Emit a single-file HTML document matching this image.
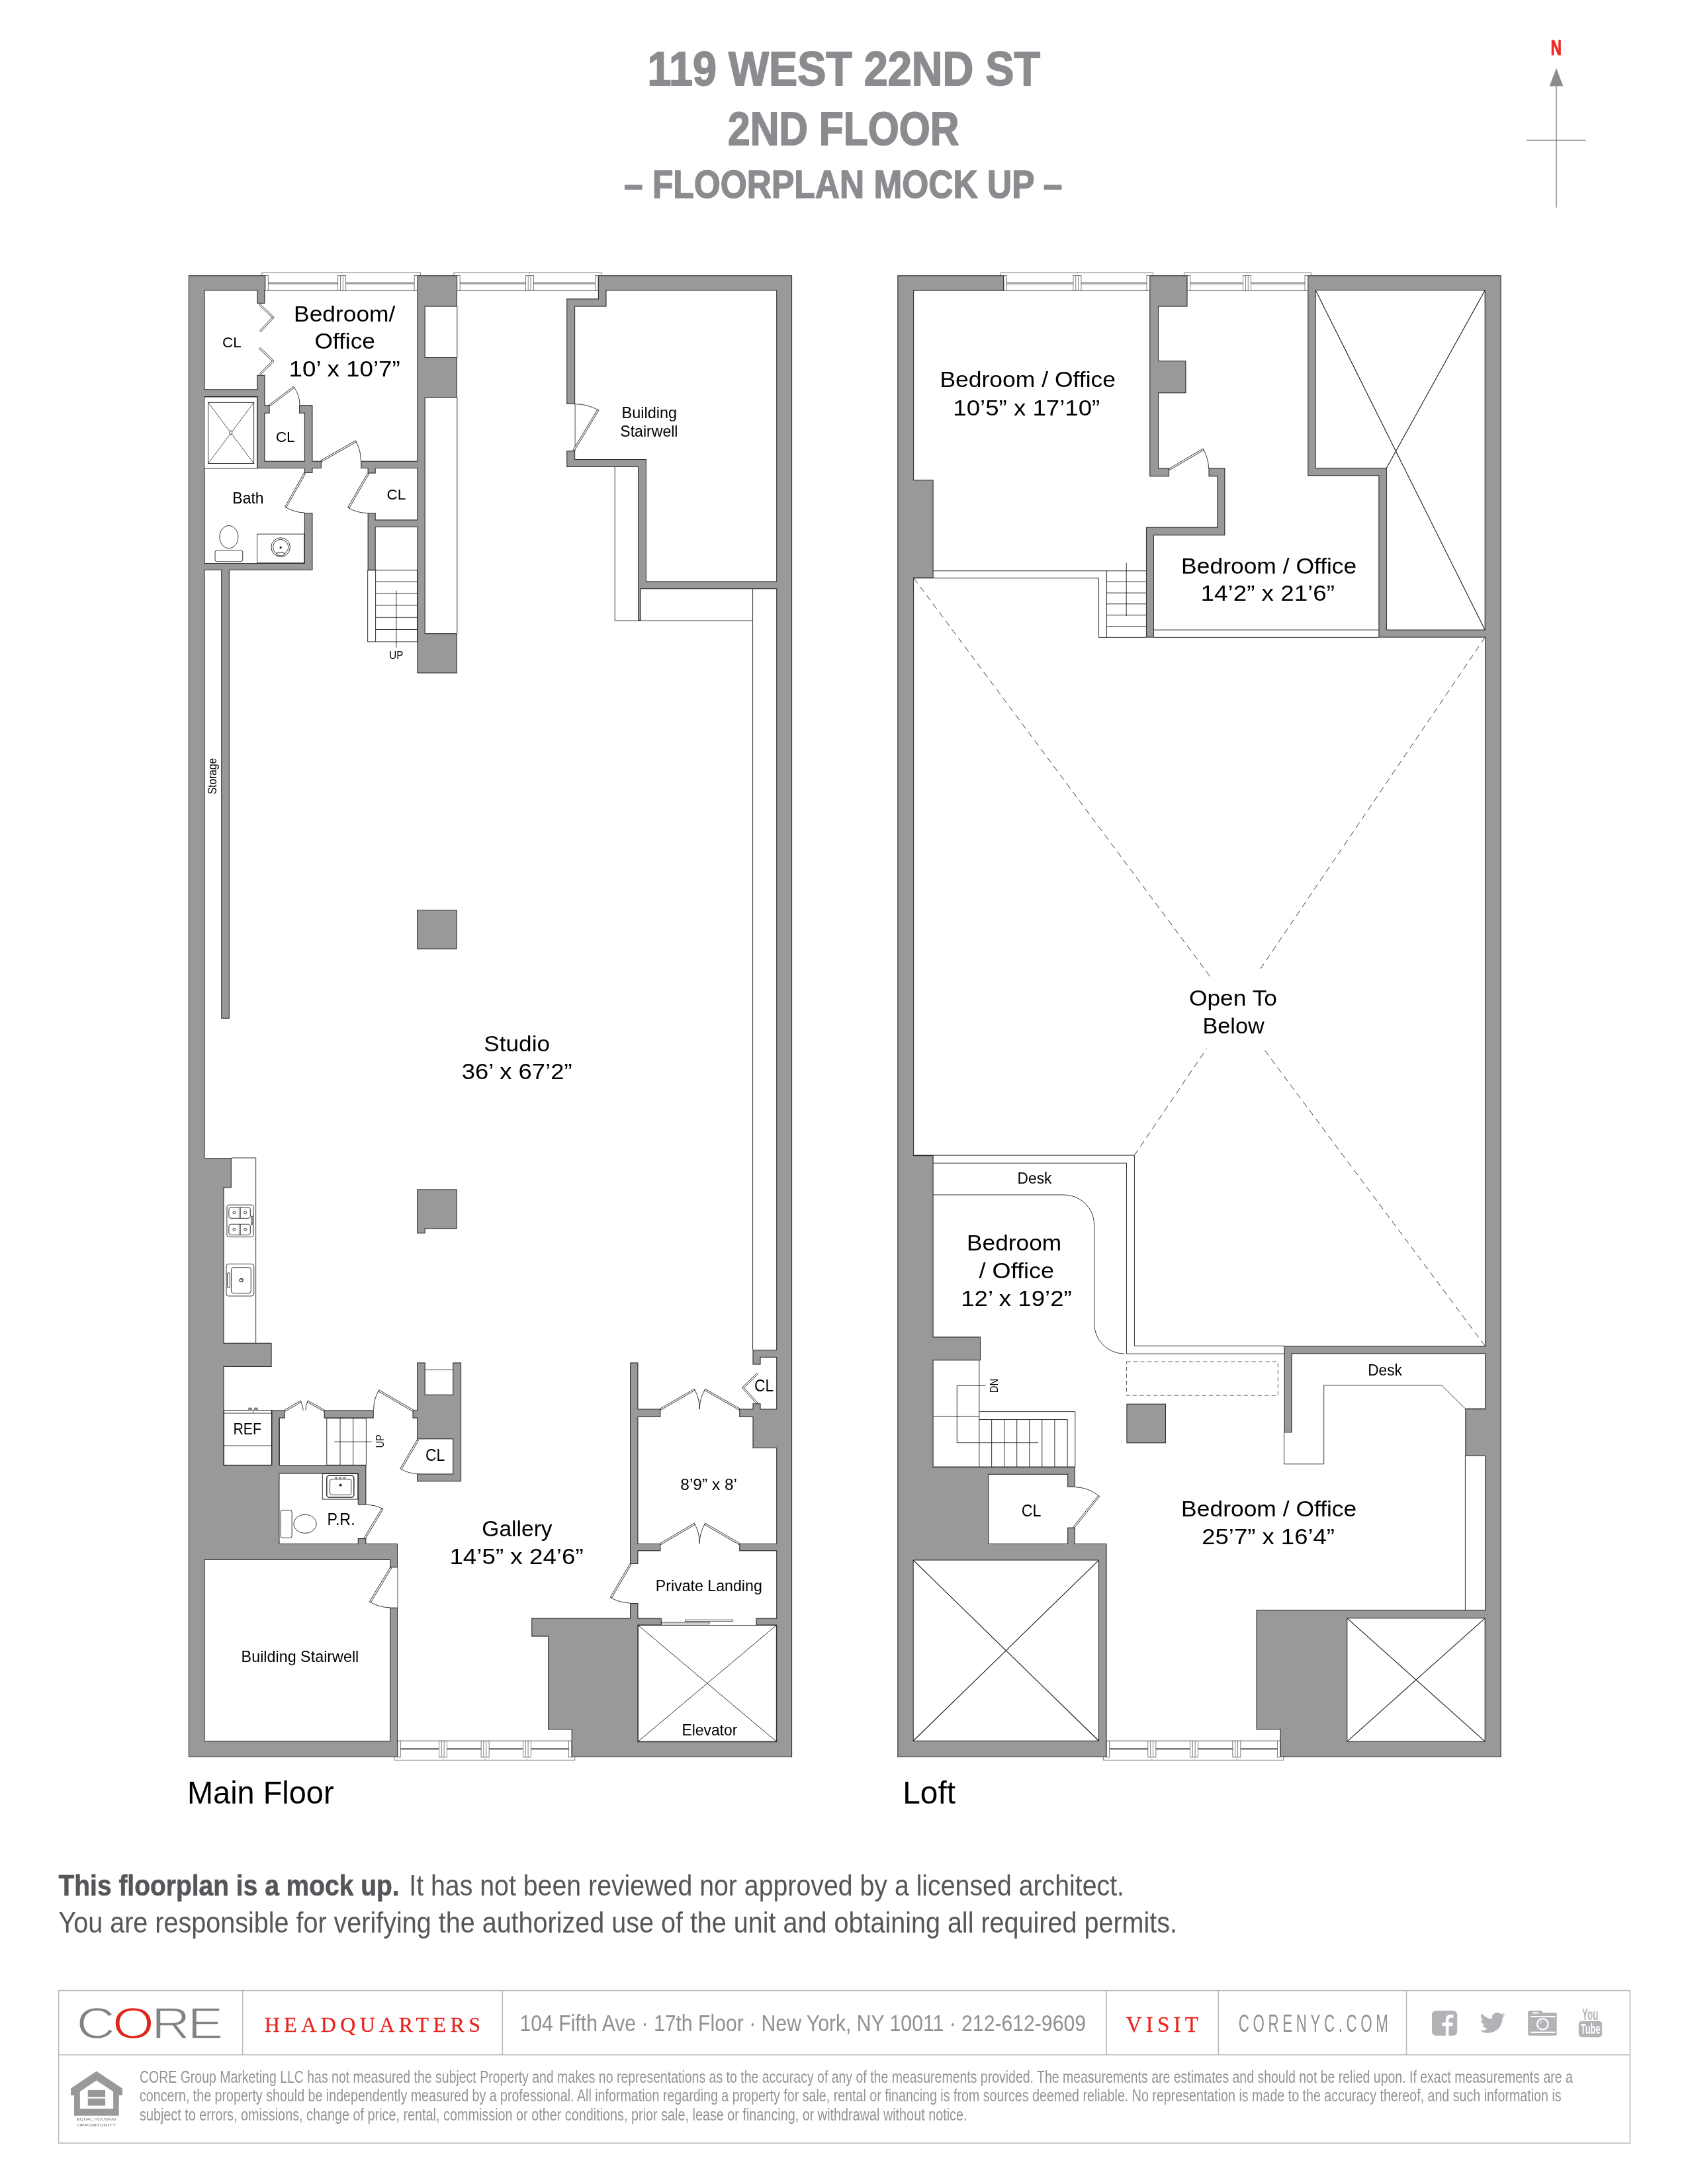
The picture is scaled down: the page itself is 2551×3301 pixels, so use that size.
<!DOCTYPE html>
<html lang="en"><head><meta charset="utf-8"><title>119 West 22nd St - 2nd Floor - Floorplan Mock Up</title>
<style>
html,body{margin:0;padding:0;background:#fff}
body{width:2551px;height:3301px;overflow:hidden}
svg{display:block;will-change:transform}
text{white-space:pre}
</style></head><body>
<svg width="2551" height="3301" viewBox="0 0 2551 3301" font-family='"Liberation Sans", Arial, Helvetica, sans-serif'>
<rect width="2551" height="3301" fill="#fff"/>
<defs><filter id="wo" filterUnits="userSpaceOnUse" x="270" y="400" width="2020" height="2270" color-interpolation-filters="sRGB"><feMorphology in="SourceAlpha" operator="erode" radius="1" result="er"/><feComposite in="SourceAlpha" in2="er" operator="out" result="ring"/><feFlood flood-color="#2b2b2b" result="fl"/><feComposite in="fl" in2="ring" operator="in" result="cring"/><feMerge><feMergeNode in="SourceGraphic"/><feMergeNode in="cring"/></feMerge></filter></defs>
<g fill="#999999" stroke="none" filter="url(#wo)">
<polygon points="284.88,416.37 400.95,416.37 400.95,439.29 400.36,439.29 400.36,458.63 388.45,458.63 388.45,439.29 309.43,439.29 309.43,1750 349.76,1750 349.76,1795.24 338.45,1795.24 338.45,2029.76 410.48,2029.76 410.48,2066.07 338.45,2066.07 338.45,2214.29 410.48,2214.29 410.48,2131.55 430.71,2131.55 430.71,2143.45 422.38,2143.45 422.38,2214.29 553.33,2214.29 553.33,2274.4 540.83,2274.4 540.83,2227.38 422.38,2227.38 422.38,2333.04 540.83,2333.04 540.83,2325 553.33,2325 553.33,2333.04 600.95,2333.04 600.95,2369.35 589.05,2369.35 589.05,2358.04 309.43,2358.04 309.43,2631.25 589.05,2631.25 589.05,2429.76 600.95,2429.76 600.95,2655.95 284.88,2655.95"/>
<polygon points="630.42,416.37 690.83,416.37 690.83,463.39 642.62,463.39 642.62,539.88 690.83,539.88 690.83,600.89 642.62,600.89 642.62,957.14 690.83,957.14 690.83,1017.56 630.42,1017.56"/>
<polygon points="903.93,416.37 1197.08,416.37 1197.08,2655.95 863.75,2655.95 863.75,2614.29 828.04,2614.29 828.04,2473.51 803.33,2473.51 803.33,2445.83 952.14,2445.83 952.14,2422.92 964.35,2422.92 964.35,2445.83 999.76,2445.83 999.76,2456.55 964.35,2456.55 964.35,2632.14 1173.27,2632.14 1173.27,2456.55 1142.62,2456.55 1142.62,2445.83 1173.27,2445.83 1173.27,2344.35 1117.32,2344.35 1117.32,2333.04 1173.27,2333.04 1173.27,2188.99 1137.56,2188.99 1137.56,2141.96 1117.32,2141.96 1117.32,2129.46 1137.56,2129.46 1137.56,2121.13 1149.46,2121.13 1149.46,2129.46 1173.27,2129.46 1173.27,2051.79 1149.46,2051.79 1149.46,2062.5 1137.56,2062.5 1137.56,2039.88 1173.27,2039.88 1173.27,890.18 968.51,890.18 968.51,938.1 964.05,938.1 964.05,705.95 856.31,705.95 856.31,681.25 869.11,681.25 869.11,694.05 976.85,694.05 976.85,878.57 1173.27,878.57 1173.27,439.29 916.43,439.29 916.43,463.39 869.11,463.39 869.11,610.71 856.31,610.71 856.31,451.49 903.93,451.49"/>
<polygon points="952.14,2059.52 964.35,2059.52 964.35,2129.46 998.27,2129.46 998.27,2141.96 964.35,2141.96 964.35,2333.04 998.27,2333.04 998.27,2344.35 964.35,2344.35 964.35,2363.99 952.14,2363.99"/>
<polygon points="388.45,566.67 400.36,566.67 400.36,612.2 407.5,612.2 407.5,624.7 400.36,624.7 400.36,700.6 388.45,700.6"/>
<rect x="304.23" y="588.39" width="93.75" height="11.61"/>
<polygon points="388.45,696.73 459.88,696.73 459.88,624.7 452.14,624.7 452.14,612.2 472.38,612.2 472.38,696.73 485.77,696.73 485.77,708.04 472.38,708.04 472.38,714.88 459.88,714.88 459.88,708.04 388.45,708.04"/>
<polygon points="545.3,696.73 636.07,696.73 636.07,708.04 567.62,708.04 567.62,715.48 555.71,715.48 555.71,708.04 545.3,708.04"/>
<polygon points="555.71,775 567.62,775 567.62,785.42 636.07,785.42 636.07,796.73 567.62,796.73 567.62,861.9 555.71,861.9"/>
<polygon points="459.88,775 472.38,775 472.38,861.9 304.23,861.9 304.23,850.89 459.88,850.89"/>
<rect x="334.29" y="856.85" width="12.5" height="682.74"/>
<rect x="630.12" y="1375" width="60.42" height="59.52"/>
<polygon points="630.12,1797.62 690.54,1797.62 690.54,1857.14 642.62,1857.14 642.62,1864.29 630.12,1864.29"/>
<polygon points="630.12,2059.52 642.62,2059.52 642.62,2107.74 684.29,2107.74 684.29,2059.52 697.08,2059.52 697.08,2239.29 630.12,2239.29 630.12,2227.38 684.29,2227.38 684.29,2175.3 630.12,2175.3 630.12,2143.45 623.57,2143.45 623.57,2131.55 630.12,2131.55"/>
<rect x="489.64" y="2131.55" width="75" height="11.9"/>
<polygon points="1356.37,416.37 1517.08,416.37 1517.08,439.43 1381.07,439.43 1381.07,725.3 1410.54,725.3 1410.54,873.81 1381.07,873.81 1381.07,1746.13 1410.54,1746.13 1410.54,2020.54 1481.96,2020.54 1481.96,2056.25 1410.54,2056.25 1410.54,2216.96 1624.82,2216.96 1624.82,2247.62 1613.21,2247.62 1613.21,2228.87 1494.17,2228.87 1494.17,2333.04 1613.21,2333.04 1613.21,2308.63 1624.82,2308.63 1624.82,2333.04 1672.44,2333.04 1672.44,2655.95 1356.37,2655.95"/>
<polygon points="1737.32,416.37 1794.46,416.37 1794.46,463.39 1751.01,463.39 1751.01,545.24 1792.38,545.24 1792.38,594.35 1751.01,594.35 1751.01,707.14 1767.08,707.14 1767.08,720.24 1737.32,720.24"/>
<polygon points="1826.61,707.14 1851.31,707.14 1851.31,809.23 1743.87,809.23 1743.87,963.39 1731.96,963.39 1731.96,796.73 1839.4,796.73 1839.4,720.24 1826.61,720.24"/>
<polygon points="1976.31,416.37 2268.57,416.37 2268.57,2655.95 1934.64,2655.95 1934.64,2614.29 1898.63,2614.29 1898.63,2433.33 2244.17,2433.33 2244.17,2200.89 2214.4,2200.89 2214.4,2129.17 2244.17,2129.17 2244.17,2046.13 1952.5,2046.13 1952.5,2165.18 1940.6,2165.18 1940.6,2034.23 2244.17,2034.23 2244.17,963.39 2083.45,963.39 2083.45,719.35 1976.31,719.35"/>
<rect x="1702.5" y="2121.73" width="59.52" height="59.52"/>
</g>
<g>
<rect x="400.95" y="416.37" width="229.46" height="22.92" fill="#fff"/>
<rect x="690.83" y="416.37" width="213.1" height="22.92" fill="#fff"/>
<rect x="600.95" y="2631.25" width="262.8" height="24.7" fill="#fff"/>
<rect x="1517.08" y="416.37" width="220.24" height="23.07" fill="#fff"/>
<rect x="1794.46" y="416.37" width="181.85" height="23.07" fill="#fff"/>
<rect x="1672.44" y="2631.25" width="262.2" height="24.7" fill="#fff"/>
</g>
<g stroke-linecap="butt">
<polyline points="690.83,463.39 690.83,539.88" fill="none" stroke="#111111" stroke-width="0.85"/>
<polyline points="690.83,600.89 690.83,957.14" fill="none" stroke="#111111" stroke-width="0.85"/>
<polyline points="642.62,2070.54 684.29,2070.54" fill="none" stroke="#111111" stroke-width="0.85"/>
<rect x="308.69" y="600" width="79.76" height="108.04" fill="#fff" stroke="#111111" stroke-width="0.85"/>
<rect x="314.64" y="608.33" width="69.05" height="92.26" fill="none" stroke="#111111" stroke-width="0.85"/>
<polyline points="314.64,608.33 383.69,700.6" fill="none" stroke="#111111" stroke-width="0.71"/>
<polyline points="383.69,608.33 314.64,700.6" fill="none" stroke="#111111" stroke-width="0.71"/>
<ellipse cx="348.87" cy="653.87" rx="2" ry="3" fill="#fff" stroke="#111111" stroke-width="0.85"/>
<rect x="388.45" y="807.14" width="71.43" height="43.75" fill="none" stroke="#111111" stroke-width="0.85"/>
<circle cx="424.17" cy="827.08" r="14.3" fill="none" stroke="#111111" stroke-width="0.85"/>
<circle cx="424.17" cy="827.08" r="11.6" fill="none" stroke="#111111" stroke-width="0.85"/>
<circle cx="424.17" cy="827.68" r="1.6" fill="#111111"/>
<rect x="418.81" y="835.12" width="10.42" height="4.76" fill="#fff" stroke="#111111" stroke-width="0.85" rx="1"/>
<ellipse cx="345.89" cy="811.61" rx="14" ry="17.3" fill="#fff" stroke="#111111" stroke-width="0.85"/>
<rect x="325.06" y="831.55" width="41.67" height="17.26" fill="#fff" stroke="#111111" stroke-width="0.85" rx="3"/>
<polygon points="391.82,461.25 412.06,480.59 413.65,478.93 393.41,459.59" fill="#fff" stroke="#111111" stroke-width="0.85"/>
<polygon points="412.01,478.98 392.67,499.81 394.35,501.38 413.7,480.54" fill="#fff" stroke="#111111" stroke-width="0.85"/>
<polygon points="391.82,527.32 412.06,546.66 413.65,545 393.41,525.66" fill="#fff" stroke="#111111" stroke-width="0.85"/>
<polygon points="412.04,545.02 392.7,564.37 394.33,565.99 413.67,546.65" fill="#fff" stroke="#111111" stroke-width="0.85"/>
<polygon points="408.19,613.71 444.8,586.04 443.41,584.2 406.81,611.88" fill="#fff" stroke="#111111" stroke-width="0.85"/>
<path d="M444.11 585.12 A45.89 45.89 0 0 1 453.04 612.2" fill="none" stroke="#111111" stroke-width="0.85"/>
<polygon points="486.34,697.72 538.43,667.96 537.29,665.97 485.2,695.73" fill="#fff" stroke="#111111" stroke-width="0.85"/>
<path d="M537.86 666.96 A59.99 59.99 0 0 1 545.3 696.73" fill="none" stroke="#111111" stroke-width="0.85"/>
<polygon points="459.47,714.91 430.61,766.1 432.61,767.23 461.48,716.04" fill="#fff" stroke="#111111" stroke-width="0.85"/>
<path d="M431.61 766.67 A58.77 58.77 0 0 0 460.48 775" fill="none" stroke="#111111" stroke-width="0.85"/>
<polygon points="555.31,715.5 525.55,766.98 527.54,768.14 557.31,716.65" fill="#fff" stroke="#111111" stroke-width="0.85"/>
<path d="M526.55 767.56 A59.47 59.47 0 0 0 556.31 775.6" fill="none" stroke="#111111" stroke-width="0.85"/>
<rect x="555.71" y="861.9" width="75" height="108.04" fill="none" stroke="#111111" stroke-width="0.85"/>
<polyline points="567.62,861.9 567.62,969.94" fill="none" stroke="#111111" stroke-width="0.85"/>
<polyline points="567.62,879.17 630.71,879.17" fill="none" stroke="#111111" stroke-width="0.85"/>
<polyline points="567.62,897.02 630.71,897.02" fill="none" stroke="#111111" stroke-width="0.85"/>
<polyline points="567.62,914.88 630.71,914.88" fill="none" stroke="#111111" stroke-width="0.85"/>
<polyline points="567.62,933.33 630.71,933.33" fill="none" stroke="#111111" stroke-width="0.85"/>
<polyline points="567.62,951.49 630.71,951.49" fill="none" stroke="#111111" stroke-width="0.85"/>
<polyline points="598.87,892.56 598.87,978.87" fill="none" stroke="#111111" stroke-width="0.85"/>
<polyline points="869.11,610.71 869.11,681.25" fill="none" stroke="#111111" stroke-width="0.71"/>
<polygon points="867.71,681.84 904.91,620.24 902.94,619.05 865.74,680.66" fill="#fff" stroke="#111111" stroke-width="0.85"/>
<path d="M903.93 619.64 A71.97 71.97 0 0 0 869.11 610.71" fill="none" stroke="#111111" stroke-width="0.85"/>
<polyline points="929.23,705.95 929.23,938.1 1137.56,938.1" fill="none" stroke="#111111" stroke-width="0.85"/>
<polyline points="1137.56,890.18 1137.56,938.1" fill="none" stroke="#111111" stroke-width="0.85"/>
<polyline points="1137.56,938.1 1137.56,2039.88" fill="none" stroke="#111111" stroke-width="0.85"/>
<polyline points="349.76,1750 386.67,1750 386.67,2029.76" fill="none" stroke="#111111" stroke-width="0.85"/>
<rect x="342.92" y="1821.13" width="40.18" height="48.51" fill="#fff" stroke="#111111" stroke-width="0.85" rx="3"/>
<rect x="345.89" y="1825" width="32.44" height="16.37" fill="none" stroke="#111111" stroke-width="0.85" rx="3"/>
<rect x="345.89" y="1850.3" width="32.44" height="16.37" fill="none" stroke="#111111" stroke-width="0.85" rx="3"/>
<polyline points="361.37,1825 361.37,1841.37" fill="none" stroke="#111111" stroke-width="0.64"/>
<polyline points="363.45,1825 363.45,1841.37" fill="none" stroke="#111111" stroke-width="0.64"/>
<polyline points="361.37,1850.3 361.37,1866.67" fill="none" stroke="#111111" stroke-width="0.64"/>
<polyline points="363.45,1850.3 363.45,1866.67" fill="none" stroke="#111111" stroke-width="0.64"/>
<circle cx="353.93" cy="1832.74" r="2" fill="#fff" stroke="#111111" stroke-width="0.85"/>
<circle cx="370.6" cy="1832.74" r="2" fill="#fff" stroke="#111111" stroke-width="0.85"/>
<circle cx="353.93" cy="1858.33" r="2" fill="#fff" stroke="#111111" stroke-width="0.85"/>
<circle cx="370.6" cy="1858.33" r="2" fill="#fff" stroke="#111111" stroke-width="0.85"/>
<circle cx="380.71" cy="1839.29" r="1.2" fill="#fff" stroke="#111111" stroke-width="0.9"/>
<circle cx="380.71" cy="1842.86" r="1.2" fill="#fff" stroke="#111111" stroke-width="0.9"/>
<circle cx="380.71" cy="1846.43" r="1.2" fill="#fff" stroke="#111111" stroke-width="0.9"/>
<circle cx="380.71" cy="1850" r="1.2" fill="#fff" stroke="#111111" stroke-width="0.9"/>
<rect x="342.02" y="1910.42" width="41.67" height="48.51" fill="#fff" stroke="#111111" stroke-width="0.85" rx="3.5"/>
<rect x="349.46" y="1915.77" width="29.76" height="38.69" fill="none" stroke="#111111" stroke-width="0.85" rx="3"/>
<rect x="343.51" y="1923.81" width="3.87" height="22.62" fill="none" stroke="#111111" stroke-width="0.85" rx="1.5"/>
<circle cx="364.64" cy="1935.12" r="2.5" fill="#fff" stroke="#111111" stroke-width="1.1"/>
<rect x="338.45" y="2131.55" width="72.02" height="82.74" fill="none" stroke="#111111" stroke-width="0.85"/>
<polyline points="338.45,2136.01 410.48,2136.01" fill="none" stroke="#111111" stroke-width="0.85"/>
<polyline points="338.45,2185.12 410.48,2185.12" fill="none" stroke="#111111" stroke-width="0.85"/>
<polyline points="382.5,2131.55 382.5,2136.01" fill="none" stroke="#111111" stroke-width="0.71"/>
<rect x="375.65" y="2127.98" width="5.06" height="3.27" fill="#8a8a8a" stroke="#666" stroke-width="0.57"/>
<rect x="384.58" y="2127.98" width="5.06" height="3.27" fill="#8a8a8a" stroke="#666" stroke-width="0.57"/>
<polygon points="431.3,2133.13 455.11,2119.15 453.94,2117.16 430.13,2131.15" fill="#fff" stroke="#111111" stroke-width="0.85"/>
<path d="M454.52 2118.15 A27.61 27.61 0 0 1 458.1 2131.55" fill="none" stroke="#111111" stroke-width="0.85"/>
<polygon points="490.21,2131.14 465.51,2117.15 464.37,2119.16 489.08,2133.14" fill="#fff" stroke="#111111" stroke-width="0.85"/>
<path d="M464.94 2118.15 A28.39 28.39 0 0 0 461.96 2131.55" fill="none" stroke="#111111" stroke-width="0.85"/>
<polygon points="624.75,2131.15 572.66,2100.79 571.5,2102.78 623.59,2133.14" fill="#fff" stroke="#111111" stroke-width="0.85"/>
<path d="M572.08 2101.79 A60.28 60.28 0 0 0 564.64 2131.55" fill="none" stroke="#111111" stroke-width="0.85"/>
<rect x="493.81" y="2143.45" width="59.52" height="70.83" fill="none" stroke="#111111" stroke-width="0.85"/>
<polyline points="514.05,2143.45 514.05,2214.29" fill="none" stroke="#111111" stroke-width="0.85"/>
<polyline points="533.69,2143.45 533.69,2214.29" fill="none" stroke="#111111" stroke-width="0.85"/>
<polyline points="505.12,2179.17 561.67,2179.17" fill="none" stroke="#111111" stroke-width="0.85"/>
<polyline points="422.38,2143.45 422.38,2214.29" fill="none" stroke="#111111" stroke-width="0.71"/>
<polygon points="630.62,2175.61 604.72,2219.66 606.71,2220.82 632.6,2176.77" fill="#fff" stroke="#111111" stroke-width="0.85"/>
<path d="M605.71 2220.24 A51.09 51.09 0 0 0 630.71 2227.38" fill="none" stroke="#111111" stroke-width="0.85"/>
<rect x="487.26" y="2227.38" width="53.57" height="38.69" fill="none" stroke="#111111" stroke-width="0.85"/>
<rect x="493.81" y="2230.36" width="41.07" height="32.74" fill="#fff" stroke="#111111" stroke-width="1.28" rx="3.5"/>
<rect x="498.57" y="2235.71" width="32.14" height="23.81" fill="none" stroke="#111111" stroke-width="0.85" rx="3"/>
<circle cx="508.1" cy="2233.63" r="1.3" fill="#fff" stroke="#111111" stroke-width="0.85"/>
<circle cx="514.35" cy="2233.63" r="1.3" fill="#fff" stroke="#111111" stroke-width="0.85"/>
<circle cx="520.6" cy="2233.63" r="1.3" fill="#fff" stroke="#111111" stroke-width="0.85"/>
<circle cx="514.64" cy="2244.64" r="1.9" fill="#111111"/>
<rect x="424.17" y="2282.44" width="16.96" height="41.96" fill="#fff" stroke="#111111" stroke-width="0.85" rx="3"/>
<ellipse cx="461.07" cy="2303.27" rx="17.3" ry="14" fill="#fff" stroke="#111111" stroke-width="0.85"/>
<polygon points="552.24,2325.59 579.02,2280.95 577.05,2279.77 550.26,2324.41" fill="#fff" stroke="#111111" stroke-width="0.85"/>
<path d="M578.04 2280.36 A52.06 52.06 0 0 0 553.33 2274.4" fill="none" stroke="#111111" stroke-width="0.85"/>
<polygon points="1143.61,2075.66 1121.88,2096.49 1123.47,2098.15 1145.2,2077.32" fill="#fff" stroke="#111111" stroke-width="0.85"/>
<polygon points="1121.83,2098.1 1143.56,2121.91 1145.25,2120.36 1123.53,2096.55" fill="#fff" stroke="#111111" stroke-width="0.85"/>
<polygon points="998.85,2131.06 1050.34,2101.29 1049.19,2099.3 997.7,2129.06" fill="#fff" stroke="#111111" stroke-width="0.85"/>
<path d="M1049.76 2100.3 A59.47 59.47 0 0 1 1057.2 2130.06" fill="none" stroke="#111111" stroke-width="0.85"/>
<polygon points="1117.89,2129.06 1065.81,2099.3 1064.67,2101.3 1116.75,2131.06" fill="#fff" stroke="#111111" stroke-width="0.85"/>
<path d="M1065.24 2100.3 A59.99 59.99 0 0 0 1057.2 2130.06" fill="none" stroke="#111111" stroke-width="0.85"/>
<polygon points="998.86,2334.62 1050.35,2304.26 1049.18,2302.28 997.69,2332.64" fill="#fff" stroke="#111111" stroke-width="0.85"/>
<path d="M1049.76 2303.27 A59.77 59.77 0 0 1 1057.2 2333.04" fill="none" stroke="#111111" stroke-width="0.85"/>
<polygon points="1117.9,2332.64 1065.82,2302.28 1064.66,2304.27 1116.74,2334.62" fill="#fff" stroke="#111111" stroke-width="0.85"/>
<path d="M1065.24 2303.27 A60.28 60.28 0 0 0 1057.2 2333.04" fill="none" stroke="#111111" stroke-width="0.85"/>
<polyline points="600.95,2369.35 600.95,2429.76" fill="none" stroke="#111111" stroke-width="0.71"/>
<polygon points="589.85,2368.75 558.3,2420.83 560.27,2422.02 591.82,2369.94" fill="#fff" stroke="#111111" stroke-width="0.85"/>
<path d="M559.29 2421.43 A60.89 60.89 0 0 0 589.05 2429.76" fill="none" stroke="#111111" stroke-width="0.85"/>
<polygon points="952.04,2363.41 922.28,2414.3 924.27,2415.46 954.03,2364.57" fill="#fff" stroke="#111111" stroke-width="0.85"/>
<path d="M923.27 2414.88 A58.96 58.96 0 0 0 952.14 2422.92" fill="none" stroke="#111111" stroke-width="0.85"/>
<rect x="964.35" y="2456.55" width="208.93" height="175.6" fill="#fff" stroke="#111111" stroke-width="0.85"/>
<polyline points="964.35,2456.55 1173.27,2632.14" fill="none" stroke="#111111" stroke-width="0.88"/>
<polyline points="1173.27,2456.55 964.35,2632.14" fill="none" stroke="#111111" stroke-width="0.88"/>
<rect x="999.76" y="2452.08" width="72.32" height="2.68" fill="#fff" stroke="#111111" stroke-width="0.71"/>
<rect x="1035.48" y="2448.21" width="72.32" height="2.38" fill="#fff" stroke="#111111" stroke-width="0.71"/>
<polyline points="400.95,439.29 630.42,439.29" fill="none" stroke="#222" stroke-width="0.78"/>
<polyline points="400.95,427.33 630.42,427.33" fill="none" stroke="#222" stroke-width="0.71"/>
<polyline points="400.95,428.93 630.42,428.93" fill="none" stroke="#222" stroke-width="0.71"/>
<rect x="400.95" y="416.37" width="4.3" height="22.92" fill="#fff" stroke="#4a4a4a" stroke-width="0.71"/>
<rect x="626.12" y="416.37" width="4.3" height="22.92" fill="#fff" stroke="#4a4a4a" stroke-width="0.71"/>
<rect x="510.7" y="416.37" width="12" height="22.92" fill="#fff" stroke="#4a4a4a" stroke-width="0.71"/>
<polyline points="514.5,416.37 514.5,439.29" fill="none" stroke="#4a4a4a" stroke-width="0.71"/>
<polyline points="518.3,416.37 518.3,439.29" fill="none" stroke="#4a4a4a" stroke-width="0.71"/>
<polyline points="395.95,416.37 395.95,411.97 635.42,411.97 635.42,416.37" fill="none" stroke="#4a4a4a" stroke-width="0.71"/>
<polyline points="516.7,411.97 516.7,413.47" fill="none" stroke="#4a4a4a" stroke-width="0.64"/>
<polyline points="690.83,439.29 903.93,439.29" fill="none" stroke="#222" stroke-width="0.78"/>
<polyline points="690.83,427.33 903.93,427.33" fill="none" stroke="#222" stroke-width="0.71"/>
<polyline points="690.83,428.93 903.93,428.93" fill="none" stroke="#222" stroke-width="0.71"/>
<rect x="690.83" y="416.37" width="4.3" height="22.92" fill="#fff" stroke="#4a4a4a" stroke-width="0.71"/>
<rect x="899.63" y="416.37" width="4.3" height="22.92" fill="#fff" stroke="#4a4a4a" stroke-width="0.71"/>
<rect x="794.4" y="416.37" width="12" height="22.92" fill="#fff" stroke="#4a4a4a" stroke-width="0.71"/>
<polyline points="798.2,416.37 798.2,439.29" fill="none" stroke="#4a4a4a" stroke-width="0.71"/>
<polyline points="802,416.37 802,439.29" fill="none" stroke="#4a4a4a" stroke-width="0.71"/>
<polyline points="685.83,416.37 685.83,411.97 908.93,411.97 908.93,416.37" fill="none" stroke="#4a4a4a" stroke-width="0.71"/>
<polyline points="800.4,411.97 800.4,413.47" fill="none" stroke="#4a4a4a" stroke-width="0.64"/>
<polyline points="600.95,2631.25 863.75,2631.25" fill="none" stroke="#222" stroke-width="0.78"/>
<polyline points="600.95,2642.5 863.75,2642.5" fill="none" stroke="#222" stroke-width="0.71"/>
<polyline points="600.95,2644.1 863.75,2644.1" fill="none" stroke="#222" stroke-width="0.71"/>
<rect x="600.95" y="2631.25" width="4.3" height="24.7" fill="#fff" stroke="#4a4a4a" stroke-width="0.71"/>
<rect x="859.45" y="2631.25" width="4.3" height="24.7" fill="#fff" stroke="#4a4a4a" stroke-width="0.71"/>
<rect x="663.5" y="2631.25" width="12" height="24.7" fill="#fff" stroke="#4a4a4a" stroke-width="0.71"/>
<polyline points="667.3,2631.25 667.3,2655.95" fill="none" stroke="#4a4a4a" stroke-width="0.71"/>
<polyline points="671.1,2631.25 671.1,2655.95" fill="none" stroke="#4a4a4a" stroke-width="0.71"/>
<rect x="727.1" y="2631.25" width="12" height="24.7" fill="#fff" stroke="#4a4a4a" stroke-width="0.71"/>
<polyline points="730.9,2631.25 730.9,2655.95" fill="none" stroke="#4a4a4a" stroke-width="0.71"/>
<polyline points="734.7,2631.25 734.7,2655.95" fill="none" stroke="#4a4a4a" stroke-width="0.71"/>
<rect x="790.5" y="2631.25" width="12" height="24.7" fill="#fff" stroke="#4a4a4a" stroke-width="0.71"/>
<polyline points="794.3,2631.25 794.3,2655.95" fill="none" stroke="#4a4a4a" stroke-width="0.71"/>
<polyline points="798.1,2631.25 798.1,2655.95" fill="none" stroke="#4a4a4a" stroke-width="0.71"/>
<polyline points="595.95,2655.95 595.95,2660.35 868.75,2660.35 868.75,2655.95" fill="none" stroke="#4a4a4a" stroke-width="0.71"/>
<polyline points="669.5,2660.35 669.5,2658.85" fill="none" stroke="#4a4a4a" stroke-width="0.64"/>
<polyline points="733.1,2660.35 733.1,2658.85" fill="none" stroke="#4a4a4a" stroke-width="0.64"/>
<polyline points="796.5,2660.35 796.5,2658.85" fill="none" stroke="#4a4a4a" stroke-width="0.64"/>
<polygon points="1988.21,438.69 2244.17,438.69 2244.17,952.08 2095.36,952.08 2095.36,707.44 1988.21,707.44" fill="#fff" stroke="#222" stroke-width="1"/>
<polygon points="2035.83,2445.83 2244.17,2445.83 2244.17,2632.14 2035.83,2632.14" fill="#fff" stroke="#222" stroke-width="1"/>
<polygon points="1380.18,2358.04 1660.54,2358.04 1660.54,2631.25 1380.18,2631.25" fill="#fff" stroke="#222" stroke-width="1"/>
<polyline points="1988.21,438.69 2244.17,952.08" fill="none" stroke="#111111" stroke-width="1.06"/>
<polyline points="2244.17,438.69 2095.36,707.44" fill="none" stroke="#111111" stroke-width="1.06"/>
<polyline points="2035.83,2445.83 2244.17,2632.14" fill="none" stroke="#111111" stroke-width="1.06"/>
<polyline points="2244.17,2445.83 2035.83,2632.14" fill="none" stroke="#111111" stroke-width="1.06"/>
<polyline points="1380.18,2358.04 1660.54,2631.25" fill="none" stroke="#111111" stroke-width="1.06"/>
<polyline points="1660.54,2358.04 1380.18,2631.25" fill="none" stroke="#111111" stroke-width="1.06"/>
<polyline points="1517.08,439.43 1737.32,439.43" fill="none" stroke="#222" stroke-width="0.78"/>
<polyline points="1517.08,427.4 1737.32,427.4" fill="none" stroke="#222" stroke-width="0.71"/>
<polyline points="1517.08,429 1737.32,429" fill="none" stroke="#222" stroke-width="0.71"/>
<rect x="1517.08" y="416.37" width="4.3" height="23.07" fill="#fff" stroke="#4a4a4a" stroke-width="0.71"/>
<rect x="1733.02" y="416.37" width="4.3" height="23.07" fill="#fff" stroke="#4a4a4a" stroke-width="0.71"/>
<rect x="1621.95" y="416.37" width="12" height="23.07" fill="#fff" stroke="#4a4a4a" stroke-width="0.71"/>
<polyline points="1625.75,416.37 1625.75,439.43" fill="none" stroke="#4a4a4a" stroke-width="0.71"/>
<polyline points="1629.55,416.37 1629.55,439.43" fill="none" stroke="#4a4a4a" stroke-width="0.71"/>
<polyline points="1512.08,416.37 1512.08,411.97 1742.32,411.97 1742.32,416.37" fill="none" stroke="#4a4a4a" stroke-width="0.71"/>
<polyline points="1627.95,411.97 1627.95,413.47" fill="none" stroke="#4a4a4a" stroke-width="0.64"/>
<polyline points="1794.46,439.43 1976.31,439.43" fill="none" stroke="#222" stroke-width="0.78"/>
<polyline points="1794.46,427.4 1976.31,427.4" fill="none" stroke="#222" stroke-width="0.71"/>
<polyline points="1794.46,429 1976.31,429" fill="none" stroke="#222" stroke-width="0.71"/>
<rect x="1794.46" y="416.37" width="4.3" height="23.07" fill="#fff" stroke="#4a4a4a" stroke-width="0.71"/>
<rect x="1972.01" y="416.37" width="4.3" height="23.07" fill="#fff" stroke="#4a4a4a" stroke-width="0.71"/>
<rect x="1878.64" y="416.37" width="12" height="23.07" fill="#fff" stroke="#4a4a4a" stroke-width="0.71"/>
<polyline points="1882.44,416.37 1882.44,439.43" fill="none" stroke="#4a4a4a" stroke-width="0.71"/>
<polyline points="1886.24,416.37 1886.24,439.43" fill="none" stroke="#4a4a4a" stroke-width="0.71"/>
<polyline points="1789.46,416.37 1789.46,411.97 1981.31,411.97 1981.31,416.37" fill="none" stroke="#4a4a4a" stroke-width="0.71"/>
<polyline points="1884.64,411.97 1884.64,413.47" fill="none" stroke="#4a4a4a" stroke-width="0.64"/>
<polyline points="1672.44,2631.25 1934.64,2631.25" fill="none" stroke="#222" stroke-width="0.78"/>
<polyline points="1672.44,2642.5 1934.64,2642.5" fill="none" stroke="#222" stroke-width="0.71"/>
<polyline points="1672.44,2644.1 1934.64,2644.1" fill="none" stroke="#222" stroke-width="0.71"/>
<rect x="1672.44" y="2631.25" width="4.3" height="24.7" fill="#fff" stroke="#4a4a4a" stroke-width="0.71"/>
<rect x="1930.34" y="2631.25" width="4.3" height="24.7" fill="#fff" stroke="#4a4a4a" stroke-width="0.71"/>
<rect x="1734.89" y="2631.25" width="12" height="24.7" fill="#fff" stroke="#4a4a4a" stroke-width="0.71"/>
<polyline points="1738.69,2631.25 1738.69,2655.95" fill="none" stroke="#4a4a4a" stroke-width="0.71"/>
<polyline points="1742.49,2631.25 1742.49,2655.95" fill="none" stroke="#4a4a4a" stroke-width="0.71"/>
<rect x="1798.58" y="2631.25" width="12" height="24.7" fill="#fff" stroke="#4a4a4a" stroke-width="0.71"/>
<polyline points="1802.38,2631.25 1802.38,2655.95" fill="none" stroke="#4a4a4a" stroke-width="0.71"/>
<polyline points="1806.18,2631.25 1806.18,2655.95" fill="none" stroke="#4a4a4a" stroke-width="0.71"/>
<rect x="1862.87" y="2631.25" width="12" height="24.7" fill="#fff" stroke="#4a4a4a" stroke-width="0.71"/>
<polyline points="1866.67,2631.25 1866.67,2655.95" fill="none" stroke="#4a4a4a" stroke-width="0.71"/>
<polyline points="1870.47,2631.25 1870.47,2655.95" fill="none" stroke="#4a4a4a" stroke-width="0.71"/>
<polyline points="1667.44,2655.95 1667.44,2660.35 1939.64,2660.35 1939.64,2655.95" fill="none" stroke="#4a4a4a" stroke-width="0.71"/>
<polyline points="1740.89,2660.35 1740.89,2658.85" fill="none" stroke="#4a4a4a" stroke-width="0.64"/>
<polyline points="1804.58,2660.35 1804.58,2658.85" fill="none" stroke="#4a4a4a" stroke-width="0.64"/>
<polyline points="1868.87,2660.35 1868.87,2658.85" fill="none" stroke="#4a4a4a" stroke-width="0.64"/>
<polygon points="1767.67,710.51 1819.16,680.16 1817.99,678.18 1766.5,708.53" fill="#fff" stroke="#111111" stroke-width="0.85"/>
<path d="M1818.57 679.17 A59.77 59.77 0 0 1 1826.61 708.04" fill="none" stroke="#111111" stroke-width="0.85"/>
<polyline points="1410.54,862.8 1731.96,862.8" fill="none" stroke="#111111" stroke-width="0.85"/>
<polyline points="1380.18,873.81 1660.54,873.81 1660.54,963.39 1731.96,963.39" fill="none" stroke="#111111" stroke-width="0.85"/>
<polyline points="1672.44,862.8 1672.44,963.39" fill="none" stroke="#111111" stroke-width="0.85"/>
<polyline points="1672.44,879.17 1731.96,879.17" fill="none" stroke="#111111" stroke-width="0.85"/>
<polyline points="1672.44,896.13 1731.96,896.13" fill="none" stroke="#111111" stroke-width="0.85"/>
<polyline points="1672.44,912.8 1731.96,912.8" fill="none" stroke="#111111" stroke-width="0.85"/>
<polyline points="1672.44,929.76 1731.96,929.76" fill="none" stroke="#111111" stroke-width="0.85"/>
<polyline points="1672.44,946.73 1731.96,946.73" fill="none" stroke="#111111" stroke-width="0.85"/>
<polyline points="1702.2,850.89 1702.2,931.25" fill="none" stroke="#111111" stroke-width="0.85"/>
<polyline points="1743.87,952.08 2083.45,952.08" fill="none" stroke="#111111" stroke-width="0.85"/>
<polyline points="1743.87,963.39 2083.45,963.39" fill="none" stroke="#111111" stroke-width="0.85"/>
<polyline points="1381.07,873.81 1829.6,1477" fill="none" stroke="#111111" stroke-width="0.85" stroke-dasharray="9.5 6.6"/>
<polyline points="2244.17,963.39 1901,1470" fill="none" stroke="#111111" stroke-width="0.85" stroke-dasharray="9.5 6.6"/>
<polyline points="1714.4,1746.13 1823.6,1584.8" fill="none" stroke="#111111" stroke-width="0.85" stroke-dasharray="9.5 6.6"/>
<polyline points="2244.17,2034.23 1910,1585.7" fill="none" stroke="#111111" stroke-width="0.85" stroke-dasharray="9.5 6.6"/>
<polyline points="1380.18,1746.13 1714.4,1746.13 1714.4,2034.23 1940.6,2034.23" fill="none" stroke="#111111" stroke-width="0.85"/>
<polyline points="1410.54,1758.04 1702.5,1758.04 1702.5,2046.13 1940.6,2046.13" fill="none" stroke="#111111" stroke-width="0.85"/>
<path d="M1410.54 1805.95 H1608.15 A45.54 45.54 0 0 1 1653.69 1851.49 V2000.6 A45.54 45.54 0 0 0 1699.23 2046.13" fill="none" stroke="#111111" stroke-width="0.85"/>
<rect x="1702.5" y="2058.04" width="228.87" height="51.19" fill="none" stroke="#444" stroke-width="0.85" stroke-dasharray="6.3 4.2"/>
<polyline points="1479.88,2056.25 1479.88,2216.96" fill="none" stroke="#111111" stroke-width="0.85"/>
<polyline points="1410.54,2140.48 1479.88,2140.48" fill="none" stroke="#111111" stroke-width="0.85"/>
<polyline points="1479.88,2133.63 1624.82,2133.63 1624.82,2216.96" fill="none" stroke="#111111" stroke-width="0.85"/>
<polyline points="1479.88,2145.54 1613.21,2145.54 1613.21,2216.96" fill="none" stroke="#111111" stroke-width="0.85"/>
<polyline points="1498.63,2145.54 1498.63,2216.96" fill="none" stroke="#111111" stroke-width="0.85"/>
<polyline points="1517.68,2145.54 1517.68,2216.96" fill="none" stroke="#111111" stroke-width="0.85"/>
<polyline points="1536.73,2145.54 1536.73,2216.96" fill="none" stroke="#111111" stroke-width="0.85"/>
<polyline points="1555.77,2145.54 1555.77,2216.96" fill="none" stroke="#111111" stroke-width="0.85"/>
<polyline points="1574.82,2145.54 1574.82,2216.96" fill="none" stroke="#111111" stroke-width="0.85"/>
<polyline points="1593.87,2145.54 1593.87,2216.96" fill="none" stroke="#111111" stroke-width="0.85"/>
<polyline points="1489.7,2094.35 1446.25,2094.35 1446.25,2180.65 1569.17,2180.65" fill="none" stroke="#111111" stroke-width="0.85"/>
<polyline points="1410.54,2216.96 1624.82,2216.96" fill="none" stroke="#111111" stroke-width="0.71"/>
<polygon points="1623.64,2309.35 1661.73,2261.73 1659.94,2260.29 1621.84,2307.91" fill="#fff" stroke="#111111" stroke-width="0.85"/>
<path d="M1660.83 2261.01 A60.98 60.98 0 0 0 1624.82 2247.62" fill="none" stroke="#111111" stroke-width="0.85"/>
<polyline points="1940.6,2165.18 1940.6,2212.8 2000.71,2212.8 2000.71,2093.75 2178.69,2093.75 2214.4,2129.17 2244.17,2129.17" fill="none" stroke="#111111" stroke-width="0.85"/>
<polyline points="2214.4,2200.89 2214.4,2433.33" fill="none" stroke="#111111" stroke-width="0.85"/>
</g>
<g>
<text x="520.75" y="485.7" font-size="33.92" text-anchor="middle" textLength="153.3" lengthAdjust="spacingAndGlyphs">Bedroom/</text>
<text x="521.2" y="527.4" font-size="33.92" text-anchor="middle" textLength="91.6" lengthAdjust="spacingAndGlyphs">Office</text>
<text x="520.7" y="569" font-size="33.92" text-anchor="middle" textLength="168.2" lengthAdjust="spacingAndGlyphs">10’ x 10’7”</text>
<text x="350.4" y="524.8" font-size="22.9" text-anchor="middle" textLength="28.8" lengthAdjust="spacingAndGlyphs">CL</text>
<text x="431.25" y="667.8" font-size="22.9" text-anchor="middle" textLength="29.1" lengthAdjust="spacingAndGlyphs">CL</text>
<text x="599" y="755.3" font-size="22.9" text-anchor="middle" textLength="28.8" lengthAdjust="spacingAndGlyphs">CL</text>
<text x="374.95" y="761.2" font-size="23.64" text-anchor="middle" textLength="47.3" lengthAdjust="spacingAndGlyphs">Bath</text>
<text x="598.8" y="996.3" font-size="16.96" text-anchor="middle" textLength="21.2" lengthAdjust="spacingAndGlyphs">UP</text>
<text x="981.3" y="631.5" font-size="23.32" text-anchor="middle" textLength="83.4" lengthAdjust="spacingAndGlyphs">Building</text>
<text x="980.9" y="659.5" font-size="23.32" text-anchor="middle" textLength="87.2" lengthAdjust="spacingAndGlyphs">Stairwell</text>
<text x="327" y="1173.2" font-size="17.6" text-anchor="middle" textLength="54.8" lengthAdjust="spacingAndGlyphs" transform="rotate(-90 327 1173.2)">Storage</text>
<text x="781.15" y="1589.3" font-size="33.92" text-anchor="middle" textLength="99.7" lengthAdjust="spacingAndGlyphs">Studio</text>
<text x="781.15" y="1631.3" font-size="33.92" text-anchor="middle" textLength="166.9" lengthAdjust="spacingAndGlyphs">36’ x 67’2”</text>
<text x="373.7" y="2167.9" font-size="23.32" text-anchor="middle" textLength="42.6" lengthAdjust="spacingAndGlyphs">REF</text>
<text x="580" y="2178.3" font-size="16.96" text-anchor="middle" textLength="20.5" lengthAdjust="spacingAndGlyphs" transform="rotate(-90 580 2178.3)">UP</text>
<text x="657.65" y="2208.2" font-size="25.02" text-anchor="middle" textLength="29.3" lengthAdjust="spacingAndGlyphs">CL</text>
<text x="515.5" y="2304.8" font-size="24.91" text-anchor="middle" textLength="42.2" lengthAdjust="spacingAndGlyphs">P.R.</text>
<text x="781.45" y="2321.7" font-size="33.92" text-anchor="middle" textLength="106.3" lengthAdjust="spacingAndGlyphs">Gallery</text>
<text x="780.55" y="2364" font-size="33.92" text-anchor="middle" textLength="202.3" lengthAdjust="spacingAndGlyphs">14’5” x 24’6”</text>
<text x="1154.55" y="2102.7" font-size="25.02" text-anchor="middle" textLength="29.1" lengthAdjust="spacingAndGlyphs">CL</text>
<text x="1071.15" y="2252" font-size="24.38" text-anchor="middle" textLength="85.7" lengthAdjust="spacingAndGlyphs">8’9” x 8’</text>
<text x="453.45" y="2511.6" font-size="23.32" text-anchor="middle" textLength="177.7" lengthAdjust="spacingAndGlyphs">Building Stairwell</text>
<text x="1071.3" y="2405" font-size="23.32" text-anchor="middle" textLength="161" lengthAdjust="spacingAndGlyphs">Private Landing</text>
<text x="1072.35" y="2623.3" font-size="23.32" text-anchor="middle" textLength="83.9" lengthAdjust="spacingAndGlyphs">Elevator</text>
<text x="393.75" y="2725.6" font-size="47.7" text-anchor="middle" textLength="221.5" lengthAdjust="spacingAndGlyphs">Main Floor</text>
<text x="1553.25" y="585.1" font-size="33.92" text-anchor="middle" textLength="265.7" lengthAdjust="spacingAndGlyphs">Bedroom / Office</text>
<text x="1551.3" y="627.7" font-size="33.92" text-anchor="middle" textLength="222" lengthAdjust="spacingAndGlyphs">10’5” x 17’10”</text>
<text x="1917.7" y="866.6" font-size="33.92" text-anchor="middle" textLength="265.2" lengthAdjust="spacingAndGlyphs">Bedroom / Office</text>
<text x="1915.8" y="908.3" font-size="33.92" text-anchor="middle" textLength="202.4" lengthAdjust="spacingAndGlyphs">14’2” x 21’6”</text>
<text x="1863.45" y="1519.6" font-size="33.92" text-anchor="middle" textLength="133.1" lengthAdjust="spacingAndGlyphs">Open To</text>
<text x="1864.1" y="1561.6" font-size="33.92" text-anchor="middle" textLength="93.2" lengthAdjust="spacingAndGlyphs">Below</text>
<text x="1563.5" y="1789.2" font-size="24.38" text-anchor="middle" textLength="52" lengthAdjust="spacingAndGlyphs">Desk</text>
<text x="1532.6" y="1890.1" font-size="33.92" text-anchor="middle" textLength="143.2" lengthAdjust="spacingAndGlyphs">Bedroom</text>
<text x="1536.35" y="1931.7" font-size="33.92" text-anchor="middle" textLength="113.7" lengthAdjust="spacingAndGlyphs">/ Office</text>
<text x="1536" y="1974" font-size="33.92" text-anchor="middle" textLength="167.6" lengthAdjust="spacingAndGlyphs">12’ x 19’2”</text>
<text x="1508.2" y="2094.6" font-size="17.28" text-anchor="middle" textLength="21.5" lengthAdjust="spacingAndGlyphs" transform="rotate(-90 1508.2 2094.6)">DN</text>
<text x="1558.65" y="2291.5" font-size="25.02" text-anchor="middle" textLength="29.7" lengthAdjust="spacingAndGlyphs">CL</text>
<text x="1917.7" y="2291.7" font-size="33.92" text-anchor="middle" textLength="265.2" lengthAdjust="spacingAndGlyphs">Bedroom / Office</text>
<text x="1916.6" y="2333.5" font-size="33.92" text-anchor="middle" textLength="200.8" lengthAdjust="spacingAndGlyphs">25’7” x 16’4”</text>
<text x="2093" y="2078.7" font-size="24.38" text-anchor="middle" textLength="51.4" lengthAdjust="spacingAndGlyphs">Desk</text>
<text x="1404.1" y="2725.6" font-size="47.7" text-anchor="middle" textLength="79.8" lengthAdjust="spacingAndGlyphs">Loft</text>
</g>
<text x="978.5" y="129.3" font-size="71.5" fill="#8a8c8f" textLength="593.5" lengthAdjust="spacingAndGlyphs" font-weight="bold" stroke="#8a8c8f" stroke-width="1.8" stroke-linejoin="round">119 WEST 22ND ST</text>
<text x="1100" y="219.3" font-size="70.5" fill="#8a8c8f" textLength="349.5" lengthAdjust="spacingAndGlyphs" font-weight="bold" stroke="#8a8c8f" stroke-width="1.8" stroke-linejoin="round">2ND FLOOR</text>
<text x="943" y="298.6" font-size="60" fill="#8a8c8f" textLength="662.5" lengthAdjust="spacingAndGlyphs" font-weight="bold" stroke="#8a8c8f" stroke-width="1.5" stroke-linejoin="round">– FLOORPLAN MOCK UP –</text>
<text x="2343.6" y="83.1" font-size="31.5" fill="#ee2722" textLength="16.6" lengthAdjust="spacingAndGlyphs" font-weight="bold" stroke="#ee2722" stroke-width="0.8">N</text>
<polygon points="2352,102.7 2362.3,130.3 2341.7,130.3" fill="#8a8c8f"/>
<path d="M2352 130V313.7M2307 212H2396.8" stroke="#8a8c8f" stroke-width="1.6" fill="none"/>
<text x="88.5" y="2865.4" font-size="44.5" fill="#55565a" textLength="515.1" lengthAdjust="spacingAndGlyphs" font-weight="bold" stroke="#55565a" stroke-width="0.6">This floorplan is a mock up.</text>
<text x="618.3" y="2865.4" font-size="44.5" fill="#55565a" textLength="1080.7" lengthAdjust="spacingAndGlyphs">It has not been reviewed nor approved by a licensed architect.</text>
<text x="88.5" y="2920.6" font-size="44.5" fill="#55565a" textLength="1690.5" lengthAdjust="spacingAndGlyphs">You are responsible for verifying the authorized use of the unit and obtaining all required permits.</text>
<g fill="none" stroke="#b9bbbd" stroke-width="1.6">
<rect x="88.6" y="3008.6" width="2374.8" height="230.6"/>
<path d="M88.6 3105.8H2463.4M366.6 3008.6V3105.8M759.3 3008.6V3105.8M1672 3008.6V3105.8M1841.4 3008.6V3105.8M2125.5 3008.6V3105.8"/>
</g>
<text transform="translate(115.5 3080.6) scale(1.2 1)" font-size="67.3" letter-spacing="-3.2" stroke="#fff" stroke-width="1.5" fill="#808285">C<tspan fill="#e0251f">O</tspan>RE</text>
<text transform="translate(399.8 3070.6) scale(1 1)" font-size="32" fill="#e8251f" letter-spacing="6.39" font-family='"Liberation Serif", "Times New Roman", serif' stroke="#e8251f" stroke-width="0.3">HEADQUARTERS</text>
<text x="785.5" y="3069.6" font-size="35.5" fill="#8e9093" textLength="855.5" lengthAdjust="spacingAndGlyphs">104 Fifth Ave · 17th Floor · New York, NY 10011 · 212-612-9609</text>
<text transform="translate(1701.7 3071) scale(1 1)" font-size="33" fill="#e8251f" letter-spacing="6.24" font-family='"Liberation Serif", "Times New Roman", serif' stroke="#e8251f" stroke-width="0.3">VISIT</text>
<text transform="translate(1871.7 3071) scale(0.62 1)" font-size="36" fill="#8e9093" letter-spacing="9.1">CORENYC.COM</text>
<text x="211" y="3147.6" font-size="26" fill="#929497" textLength="2165.8" lengthAdjust="spacingAndGlyphs">CORE Group Marketing LLC has not measured the subject Property and makes no representations as to the accuracy of any of the measurements provided. The measurements are estimates and should not be relied upon. If exact measurements are a</text>
<text x="211" y="3176.3" font-size="26" fill="#929497" textLength="2148.6" lengthAdjust="spacingAndGlyphs">concern, the property should be independently measured by a professional. All information regarding a property for sale, rental or financing is from sources deemed reliable. No representation is made to the accuracy thereof, and such information is</text>
<text x="211" y="3205" font-size="26" fill="#929497" textLength="1250.5" lengthAdjust="spacingAndGlyphs">subject to errors, omissions, change of price, rental, commission or other conditions, prior sale, lease or financing, or withdrawal without notice.</text>
<polygon points="145.74,3130.57 184.97,3156.45 184.97,3167.06 179.74,3167.06 179.74,3197.75 111.98,3197.75 111.98,3167.06 107,3167.06 107,3156.45" fill="#999999"/>
<polygon points="145.74,3144.42 171.11,3161.26 171.11,3187.13 120.85,3187.13 120.85,3161.26" fill="#fff"/>
<polygon points="132.71,3158.93 159.09,3158.93 159.09,3169.55 132.71,3169.55" fill="#999999"/>
<polygon points="132.71,3171.79 159.09,3171.79 159.09,3182.57 132.71,3182.57" fill="#999999"/>
<text x="115.96" y="3204.55" font-size="6.1" fill="#6d6e71" textLength="59.88" lengthAdjust="spacingAndGlyphs">EQUAL HOUSING</text>
<text x="115.96" y="3213.67" font-size="6.1" fill="#6d6e71" textLength="59.47" lengthAdjust="spacingAndGlyphs">OPPORTUNITY</text>
<rect x="2163.99" y="3039.02" width="38.21" height="37.85" rx="6.2" fill="#b1b3b6"/>
<path d="M2184.78 3077.22 L2184.78 3062.3 L2179.45 3062.3 L2179.45 3056.96 L2184.78 3056.96 L2184.78 3052.88 C2184.78 3047.55 2187.63 3044.88 2192.43 3044.88 L2196.51 3044.88 L2196.51 3049.86 L2193.31 3049.86 C2190.65 3049.86 2189.4 3051.1 2189.4 3053.41 L2189.4 3056.96 L2195.8 3056.96 L2195.09 3062.3 L2189.4 3062.3 L2189.4 3077.22 Z" fill="#fff"/>
<path transform="translate(2236.5 3038.3) scale(1.583)" d="M23.953 4.57a10 10 0 01-2.825.775 4.958 4.958 0 002.163-2.723c-.951.555-2.005.959-3.127 1.184a4.92 4.92 0 00-8.384 4.482C7.69 8.095 4.067 6.13 1.64 3.162a4.822 4.822 0 00-.666 2.475c0 1.71.87 3.213 2.188 4.096a4.904 4.904 0 01-2.228-.616v.06a4.923 4.923 0 003.946 4.827 4.996 4.996 0 01-2.212.085 4.936 4.936 0 004.604 3.417 9.867 9.867 0 01-6.102 2.105c-.39 0-.779-.023-1.17-.067a13.995 13.995 0 007.557 2.209c9.053 0 13.998-7.496 13.998-13.985 0-.21 0-.42-.015-.63A9.935 9.935 0 0024 4.59z" fill="#b1b3b6"/>
<rect x="2309.18" y="3039.02" width="43.54" height="37.85" rx="2.5" fill="#b1b3b6"/>
<rect x="2313.27" y="3047.01" width="37.32" height="1.95" fill="#fff"/>
<rect x="2313.27" y="3070.65" width="37.32" height="2.31" fill="#fff"/>
<rect x="2315.94" y="3041.33" width="8.89" height="2.13" fill="#fff"/>
<polygon points="2328.73 3037.77 2354.15 3037.77 2354.15 3042.04 2331.58 3042.04" fill="#fff"/>
<circle cx="2331.4" cy="3059.45" r="9.4" fill="#fff"/><circle cx="2331.4" cy="3059.45" r="7.1" fill="#b1b3b6"/>
<path d="M2327.2 3058.95 A4.2 4.2 0 0 1 2330.9 3055.25" stroke="#fff" stroke-width="0.9" fill="none"/>
<rect x="2385.78" y="3054.65" width="35.37" height="24.52" rx="5" fill="#b1b3b6"/>
<text x="2391.11" y="3052.7" font-size="24" fill="#b1b3b6" textLength="24.17" lengthAdjust="spacingAndGlyphs" font-weight="bold">You</text>
<text x="2388.8" y="3074.2" font-size="22" fill="#fff" textLength="29.86" lengthAdjust="spacingAndGlyphs" font-weight="bold">Tube</text>
</svg>
</body></html>
